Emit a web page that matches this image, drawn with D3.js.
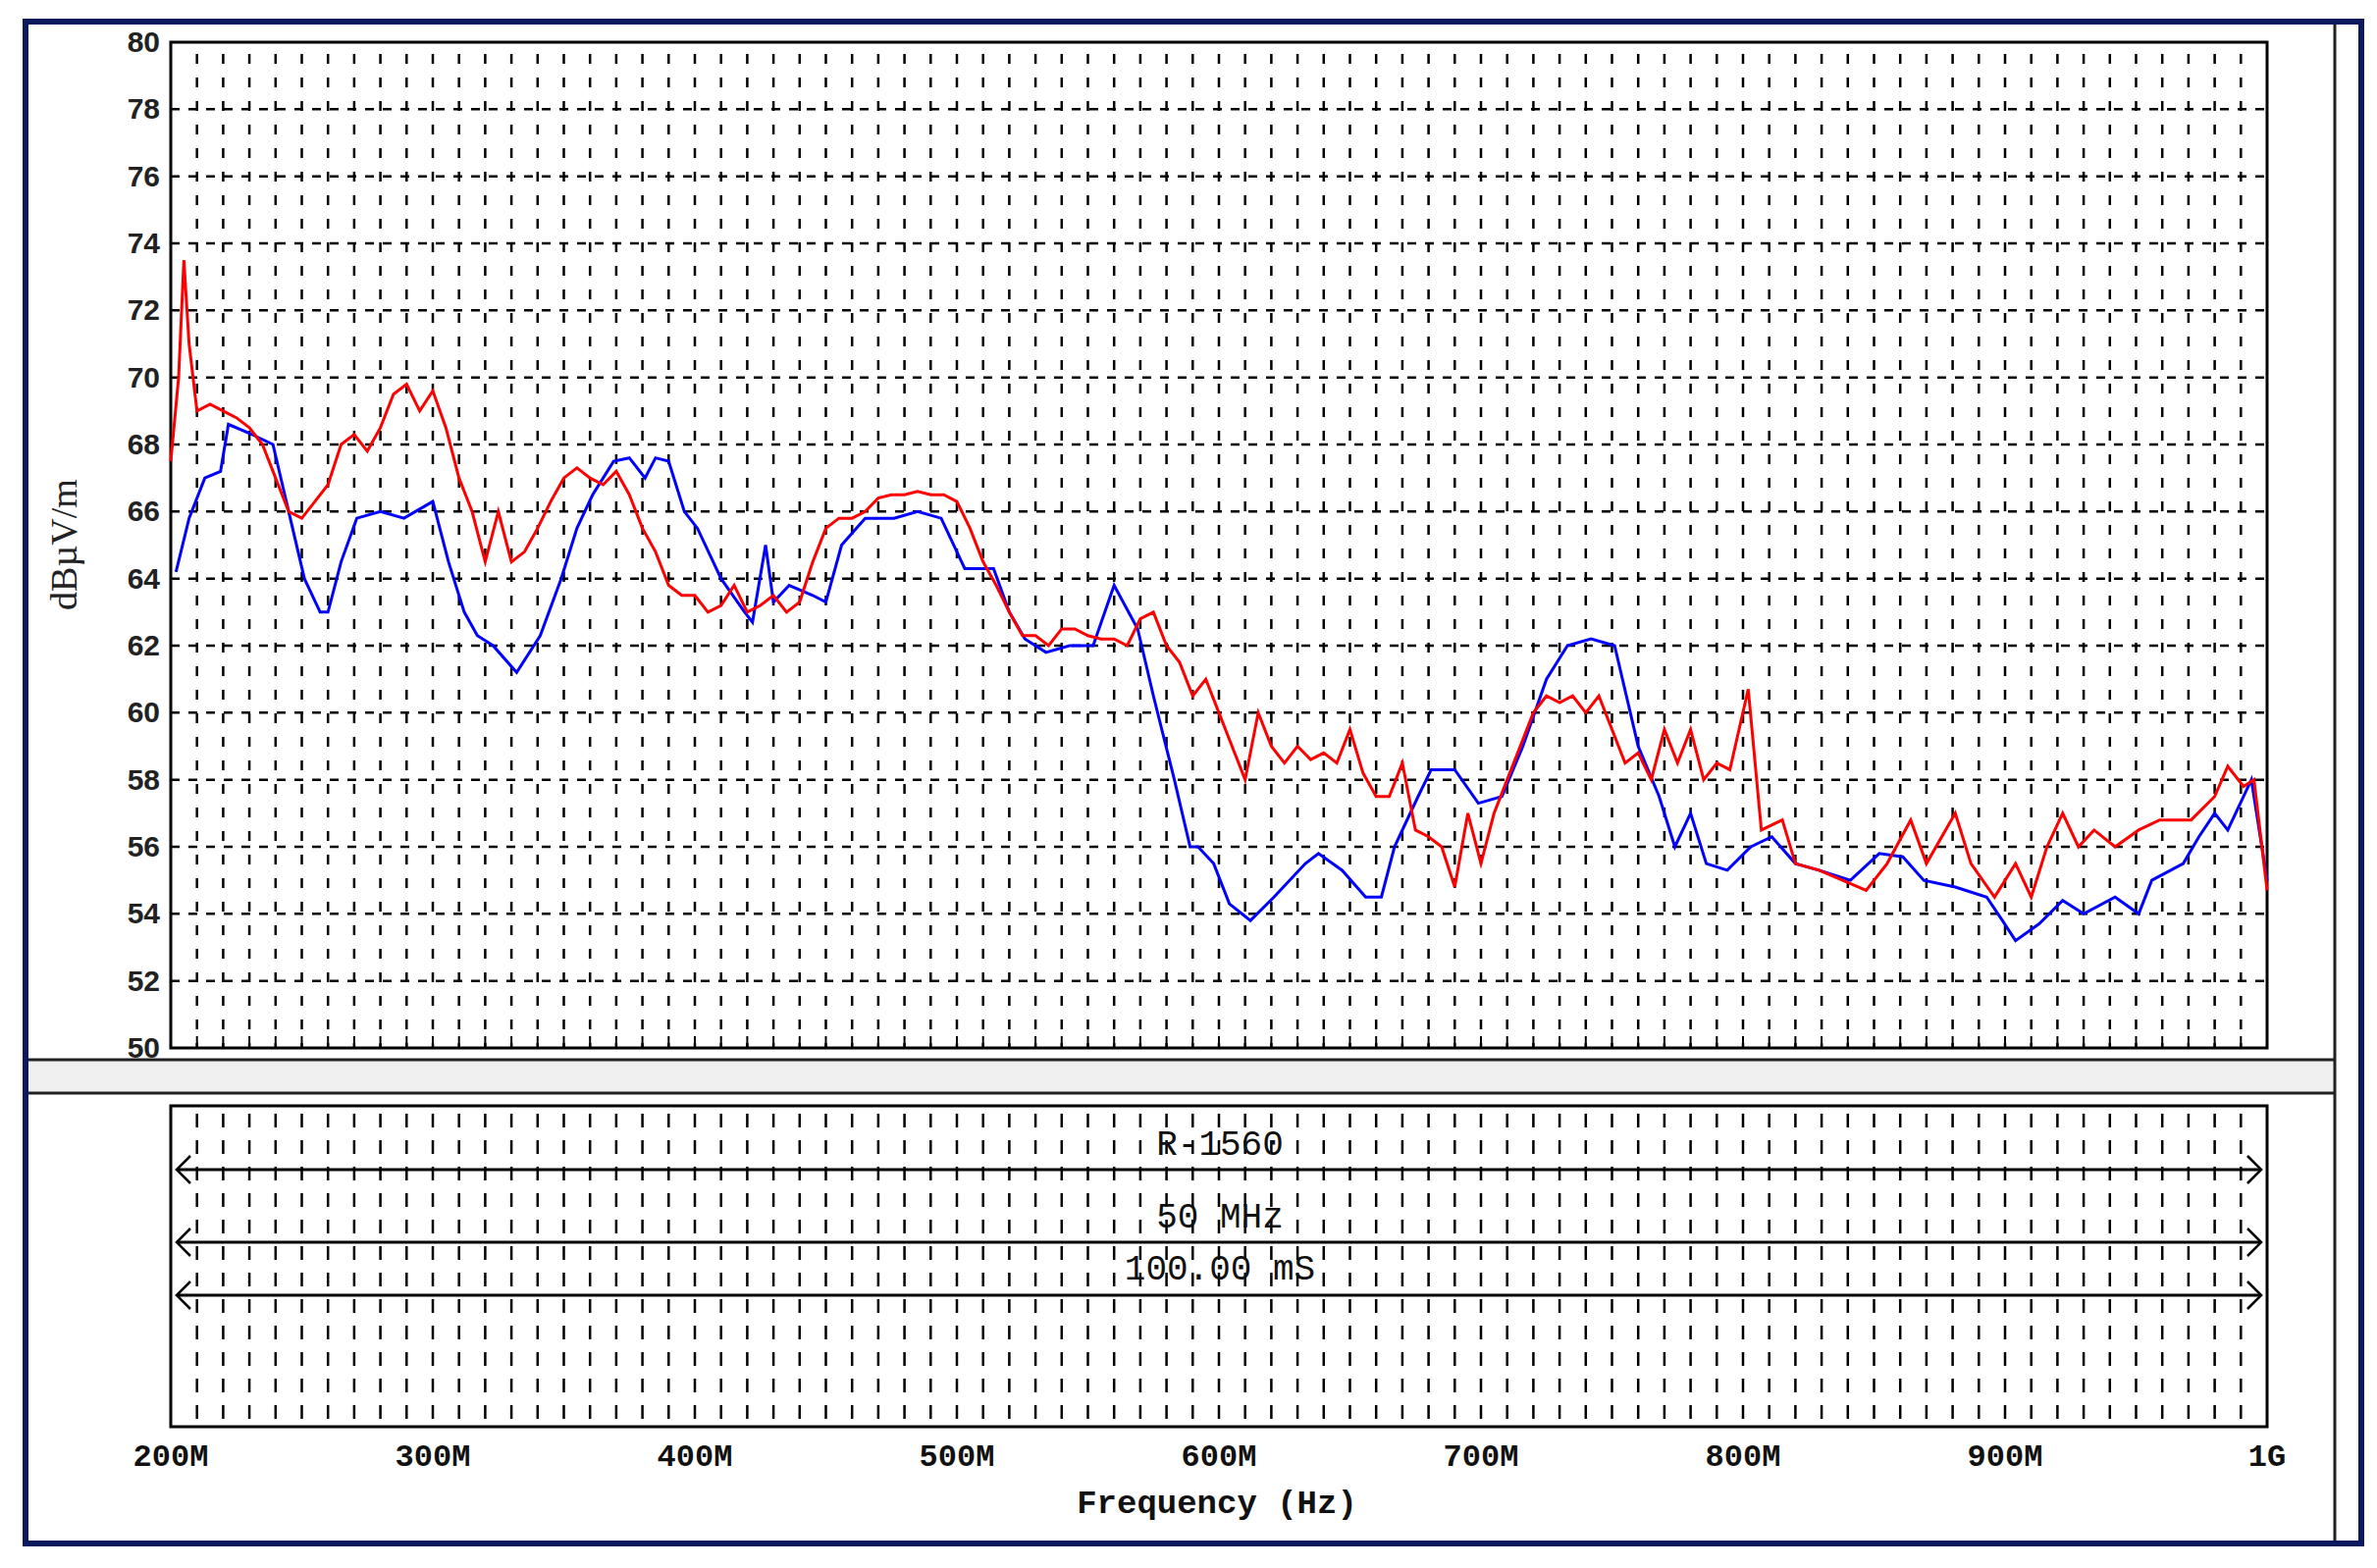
<!DOCTYPE html><html><head><meta charset="utf-8"><script src="https://cdn.jsdelivr.net/npm/d3@7"></script>
<style>body{margin:0;background:#fff}</style></head><body><svg id="c" width="2422" height="1598"></svg><script>
const yTicks=[50,52,54,56,58,60,62,64,66,68,70,72,74,76,78,80];
const xTickVals=[200,300,400,500,600,700,800,900,1000];
const xTickLabels=["200M","300M","400M","500M","600M","700M","800M","900M","1G"];
const infoLabels=["R-1560","50 MHz","100.00 mS"];
const redF=[200,203,205,207,210,215,220,225,230,235,240,245,250,255,260,265,270,275,280,285,290,295,300,305,310,315,320,325,330,335,340,345,350,355,360,365,370,375,380,385,390,395,400,405,410,415,420,425,430,435,440,445,450,455,460,465,470,475,480,485,490,495,500,505,510,515,520,525,530,535,540,545,550,555,560,565,570,575,580,585,590,595,600,605,610,615,620,625,630,635,640,645,650,655,660,665,670,675,680,685,690,695,700,705,710,715,720,725,730,735,740,745,750,755,760,765,770,775,780,785,790,795,802,807,815,820,829,838,847,855,864,870,881,887,896,904,910,916,922,928,934,942,951,959,971,980,985,991,995,1000];
const redV=[67.5,70,73.5,71,69,69.2,69,68.8,68.5,68,67,66,65.8,66.3,66.8,68,68.3,67.8,68.5,69.5,69.8,69,69.6,68.5,67,66,64.5,66,64.5,64.8,65.5,66.3,67,67.3,67,66.8,67.2,66.5,65.5,64.8,63.8,63.5,63.5,63,63.2,63.8,63,63.2,63.5,63,63.3,64.5,65.5,65.8,65.8,66,66.4,66.5,66.5,66.6,66.5,66.5,66.3,65.5,64.5,63.8,63,62.3,62.3,62,62.5,62.5,62.3,62.2,62.2,62,62.8,63,62,61.5,60.5,61,60,59,58,60,59,58.5,59,58.6,58.8,58.5,59.5,58.2,57.5,57.5,58.5,56.5,56.3,56,54.8,57,55.5,57,58,59,60,60.5,60.3,60.5,60,60.5,59.5,58.5,58.8,58,59.5,58.5,59.5,58,58.5,58.3,60.7,56.5,56.8,55.5,55.3,55,54.7,55.5,56.8,55.5,57,55.5,54.5,55.5,54.5,56,57,56,56.5,56,56.5,56.8,56.8,57.5,58.4,57.8,58,54.7];
const blueF=[202,207,213,219,222,231,239,245,251,257,260,265,271,280,289,300,306,312,317,323,332,341,349,355,361,369,375,381,385,390,396,401,410,419,422,427,430,436,445,450,456,465,476,485,494,503,514,520,526,534,543,552,560,569,575,583,589,592,598,604,612,621,633,638,647,656,662,667,676,681,690,699,708,716,725,733,742,751,760,768,774,780,786,794,803,811,820,829,841,852,861,869,881,893,899,904,913,922,930,942,951,956,968,974,980,985,994,1000];
const blueV=[64.2,65.8,67,67.2,68.6,68.3,68,66,64,63,63,64.5,65.8,66,65.8,66.3,64.5,63,62.3,62,61.2,62.3,64,65.5,66.5,67.5,67.6,67,67.6,67.5,66,65.5,64,63,62.7,65,63.3,63.8,63.5,63.3,65,65.8,65.8,66,65.8,64.3,64.3,63,62.2,61.8,62,62,63.8,62.5,60.5,58,56,56,55.5,54.3,53.8,54.5,55.5,55.8,55.3,54.5,54.5,56,57.5,58.3,58.3,57.3,57.5,59,61,62,62.2,62,59,57.5,56,57,55.5,55.3,56,56.3,55.5,55.3,55,55.8,55.7,55,54.8,54.5,53.8,53.2,53.7,54.4,54,54.5,54,55,55.5,56.3,57,56.5,58,55];

const svg=d3.select("#c");
const L=174,R=2310,T=43,B=1068;
const x=d3.scaleLinear().domain([200,1000]).range([L,R]);
const y=d3.scaleLinear().domain([50,80]).range([B,T]);
svg.append("rect").attr("x",26).attr("y",22).attr("width",2380).attr("height",1551).attr("fill","#fff").attr("stroke","#0a1a5c").attr("stroke-width",6);
svg.append("rect").attr("x",29).attr("y",1080).attr("width",2350).attr("height",34).attr("fill","#f0f0f0");
svg.append("line").attr("x1",29).attr("x2",2379).attr("y1",1080).attr("y2",1080).attr("stroke","#222").attr("stroke-width",3);
svg.append("line").attr("x1",29).attr("x2",2379).attr("y1",1114).attr("y2",1114).attr("stroke","#222").attr("stroke-width",3);
svg.append("line").attr("x1",2379).attr("x2",2379).attr("y1",25).attr("y2",1570).attr("stroke","#222").attr("stroke-width",3);
const minor=d3.range(210,1000,10);
const g=svg.append("g");
g.selectAll(".v").data(minor).join("line").attr("x1",d=>x(d)).attr("x2",d=>x(d)).attr("y1",T+12).attr("y2",B).attr("stroke","#000").attr("stroke-width",2.5).attr("stroke-dasharray","10,14");
g.selectAll(".h").data(yTicks.slice(1,-1)).join("line").attr("x1",L).attr("x2",R).attr("y1",d=>y(d)).attr("y2",d=>y(d)).attr("stroke","#000").attr("stroke-width",2.5).attr("stroke-dasharray","9,9");
svg.append("rect").attr("x",L).attr("y",T).attr("width",R-L).attr("height",B-T).attr("fill","none").attr("stroke","#000").attr("stroke-width",3);
g.selectAll(".bt").data(minor).join("line").attr("x1",d=>x(d)).attr("x2",d=>x(d)).attr("y1",B-12).attr("y2",B).attr("stroke","#000").attr("stroke-width",2);
svg.selectAll(".yl").data(yTicks).join("text").attr("x",163).attr("y",d=>y(d)+10).attr("text-anchor","end").attr("font-family","Liberation Sans Narrow, Liberation Sans").attr("font-weight","bold").attr("font-size",30).attr("fill","#222").text(d=>d);
svg.append("text").attr("transform","translate(78,555) rotate(-90)").attr("text-anchor","middle").attr("font-family","Liberation Serif").attr("font-size",38).attr("fill","#222").text("dBµV/m");
const line=d3.line().x(d=>x(d[0])).y(d=>y(d[1]));
svg.append("path").datum(blueF.map((f,i)=>[f,blueV[i]])).attr("d",line).attr("fill","none").attr("stroke","#0000ff").attr("stroke-width",3);
svg.append("path").datum(redF.map((f,i)=>[f,redV[i]])).attr("d",line).attr("fill","none").attr("stroke","#ff0000").attr("stroke-width",3);
const T2=1127,B2=1454;
const g2=svg.append("g");
g2.selectAll("line").data(minor).join("line").attr("x1",d=>x(d)).attr("x2",d=>x(d)).attr("y1",T2+8).attr("y2",B2).attr("stroke","#000").attr("stroke-width",2.5).attr("stroke-dasharray","14,13");
svg.append("rect").attr("x",L).attr("y",T2).attr("width",R-L).attr("height",B2-T2).attr("fill","none").attr("stroke","#000").attr("stroke-width",3);
const arrowY=[1192,1266,1320], textY=[1177,1251,1304];
arrowY.forEach((ay,i)=>{
  svg.append("line").attr("x1",L+6).attr("x2",R-6).attr("y1",ay).attr("y2",ay).attr("stroke","#000").attr("stroke-width",3);
  svg.append("path").attr("d",`M${L+20},${ay-14}L${L+6},${ay}L${L+20},${ay+14}M${R-20},${ay-14}L${R-6},${ay}L${R-20},${ay+14}`).attr("fill","none").attr("stroke","#000").attr("stroke-width",2.5);
  svg.append("text").attr("x",1243).attr("y",textY[i]).attr("text-anchor","middle").attr("font-family","Liberation Mono").attr("font-size",36).attr("fill","#111").text(infoLabels[i]);
});
svg.selectAll(".xl").data(xTickVals).join("text").attr("x",d=>x(d)).attr("y",1494).attr("text-anchor","middle").attr("font-family","Liberation Mono").attr("font-weight","bold").attr("font-size",32).attr("fill","#111").text((d,i)=>xTickLabels[i]);
svg.append("text").attr("x",1240).attr("y",1542).attr("text-anchor","middle").attr("font-family","Liberation Mono").attr("font-weight","bold").attr("font-size",34).attr("fill","#111").text("Frequency (Hz)");
</script></body></html>
